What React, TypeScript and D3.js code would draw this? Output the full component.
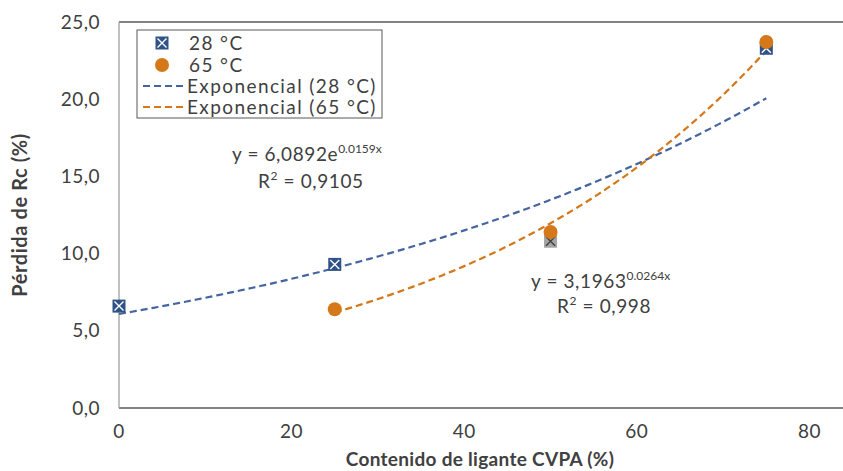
import React from "react";
import * as d3 from "d3";

// Binder content (% CVPA) and strength loss (%) at each curing temperature
const binder28 = [0, 25, 50, 75];
const loss28 = [6.6, 9.3, 10.8, 23.3];
const binder65 = [25, 50, 75];
const loss65 = [6.4, 11.4, 23.7];
// The 50 % point at 28 °C is shown greyed out
const muted28 = [false, false, true, false];

// Exponential fits y = a·e^(b·x)
const fit28 = { a: 6.0892, b: 0.0159, r2: "0,9105", from: 0, to: 75 };
const fit65 = { a: 3.1963, b: 0.0264, r2: "0,998", from: 25, to: 75 };

const xTicks = [0, 20, 40, 60, 80];
const yTicks = [0, 5, 10, 15, 20, 25];

const W = 843;
const H = 471;
const FONT = "Lato, sans-serif";
const TEXT = "#404040";
const BLUE = "#2F5288";
const BLUE_LINE = "#44659F";
const ORANGE = "#D4781A";
const FS = 19;

const fmt = (v: number) => v.toFixed(1).replace(".", ",");

export default function App() {
  const x = d3.scaleLinear().domain([0, 84]).range([119, 844]);
  const y = d3.scaleLinear().domain([0, 25]).range([408, 22]);

  const curve = (f: { a: number; b: number; from: number; to: number }) => {
    const xs = d3.range(f.from, f.to + 0.001, 0.5);
    return d3
      .line<number>()
      .x((d) => x(d))
      .y((d) => y(f.a * Math.exp(f.b * d)))(xs) as string;
  };

  const square = (cx: number, cy: number, key: string, muted: boolean) => {
    const s = 6.5;
    const fill = muted ? "#A5A5A5" : BLUE;
    const stroke = muted ? "#404040" : "#FFFFFF";
    const k = 4.5;
    return (
      <g key={key}>
        <rect x={cx - s} y={cy - s} width={2 * s} height={2 * s} fill={fill} />
        <path
          d={`M${cx - k},${cy - k}L${cx + k},${cy + k}M${cx - k},${cy + k}L${cx + k},${cy - k}`}
          stroke={stroke}
          strokeWidth={1.4}
        />
      </g>
    );
  };

  return (
    <svg
      width={W}
      height={H}
      style={{ position: "fixed", left: 0, top: 0, background: "#fff" }}
      fontFamily={FONT}
    >
      {/* frame */}
      <line x1={119} x2={W} y1={y(25)} y2={y(25)} stroke="#595959" strokeWidth={1.3} />
      <line x1={119} x2={W} y1={y(0)} y2={y(0)} stroke="#595959" strokeWidth={1.3} />
      <line x1={119} x2={119} y1={y(25)} y2={y(0)} stroke="#A0A0A0" strokeWidth={1.3} />

      {/* y ticks */}
      {yTicks.map((t) => (
        <text key={"y" + t} x={100} y={y(t)} dy="0.35em" textAnchor="end" fontSize={FS} letterSpacing={0.5} fill={TEXT}>
          {fmt(t)}
        </text>
      ))}
      {/* x ticks */}
      {xTicks.map((t) => (
        <text key={"x" + t} x={x(t)} y={438} textAnchor="middle" fontSize={FS} letterSpacing={0.5} fill={TEXT}>
          {t}
        </text>
      ))}

      <text
        x={480}
        y={466}
        textAnchor="middle"
        fontSize={19}
        fontWeight="bold"
        letterSpacing={0.3}
        fill={TEXT}
      >
        Contenido de ligante CVPA (%)
      </text>
      <text
        transform={`translate(27,${(y(0) + y(25)) / 2}) rotate(-90)`}
        textAnchor="middle"
        fontSize={20}
        fontWeight="bold"
        letterSpacing={0.6}
        fill={TEXT}
      >
        Pérdida de Rc (%)
      </text>

      {/* trend lines */}
      <path d={curve(fit28)} fill="none" stroke={BLUE_LINE} strokeWidth={2.2} strokeDasharray="7,4" />
      <path d={curve(fit65)} fill="none" stroke={ORANGE} strokeWidth={2.2} strokeDasharray="7,4" />

      {/* markers */}
      {binder28.map((b, i) => square(x(b), y(loss28[i]), "s" + i, muted28[i]))}
      {binder65.map((b, i) => (
        <circle key={"c" + i} cx={x(b)} cy={y(loss65[i])} r={7} fill={ORANGE} />
      ))}

      {/* equations */}
      <g fontSize={FS} fill={TEXT} letterSpacing={0.6}>
        <text x={232} y={161}>
          y = {fit28.a.toFixed(4).replace(".", ",")}e
          <tspan fontSize={12} dy={-8} letterSpacing={0}>{fit28.b.toFixed(4)}x</tspan>
        </text>
        <text x={258} y={188}>
          R<tspan fontSize={12} dy={-8}>2</tspan>
          <tspan dy={8}> = {fit28.r2}</tspan>
        </text>
        <text x={531} y={288}>
          y = {fit65.a.toFixed(4).replace(".", ",")}
          <tspan fontSize={12} dy={-8} letterSpacing={0}>{fit65.b.toFixed(4)}x</tspan>
        </text>
        <text x={557} y={313}>
          R<tspan fontSize={12} dy={-8}>2</tspan>
          <tspan dy={8}> = {fit65.r2}</tspan>
        </text>
      </g>

      {/* legend */}
      <g fontSize={FS} fill={TEXT} letterSpacing={1.4}>
        <rect x={137} y={30} width={245} height={88} fill="#fff" stroke="#595959" strokeWidth={1} />
        {square(162, 43, "l1", false)}
        <text x={189} y={43} dy="0.35em">28 °C</text>
        <circle cx={162} cy={65} r={7} fill={ORANGE} />
        <text x={189} y={65} dy="0.35em">65 °C</text>
        <line x1={143} x2={186} y1={86} y2={86} stroke={BLUE_LINE} strokeWidth={2.2} strokeDasharray="7,4" />
        <text x={187} y={86} dy="0.35em">Exponencial (28 °C)</text>
        <line x1={143} x2={186} y1={107} y2={107} stroke={ORANGE} strokeWidth={2.2} strokeDasharray="7,4" />
        <text x={187} y={107} dy="0.35em">Exponencial (65 °C)</text>
      </g>
    </svg>
  );
}
